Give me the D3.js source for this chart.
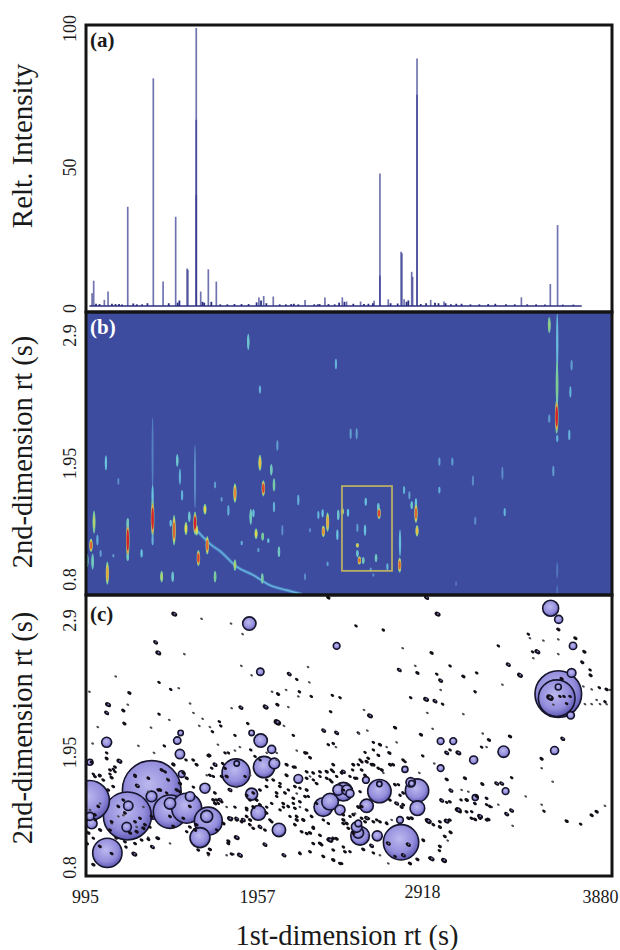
<!DOCTYPE html>
<html><head><meta charset="utf-8">
<script src="https://cdn.jsdelivr.net/npm/d3@7"></script>
<style>html,body{margin:0;padding:0;background:#fff}svg{display:block}
text{font-family:"Liberation Serif","Times New Roman",serif;fill:#1a1a1a}</style></head>
<body><div id="chart"></div>
<script>
// ---------- shared axis data ----------
const xTickValues = [995, 1957, 2918, 3880];
const xTickLift = [0, 0, 5, 0];
const intensityTicks = [100, 50, 0];
const secondDimTicks = [2.9, 1.95, 0.8];
const secondDimTickFormat = ["0.8", "1.95", "2.9"];
const panelTags = ["(a)", "(b)", "(c)"];

// ---------- panel (a): [1st-dim rt, relative intensity] ----------
const mainPeaks = [[1018,4.6],[1027,9.1],[1087,2.2],[1108,5.2],[1219,35.7],[1363,81.9],[1418,8.8],[1489,32.1],[1553,13.5],[1558,13],[1605,100],[1605,67],[1605,40],[1630,5.2],[1673,13.2],[1718,8.8],[1958,3.1],[1985,3.6],[2039,3.4],[2218,2.2],[2330,3.1],[2428,3.1],[2452,1.6],[2531,1.6],[2607,1.9],[2640,47.7],[2640,11],[2687,2.4],[2759,19.5],[2764,19],[2776,2.4],[2819,12.3],[2824,10.5],[2849,89],[2849,76],[2926,2.2],[3001,1.6],[3437,3.1],[3600,7.9],[3641,29.1]];
const lowPeaks = [[1040,.8],[1060,.7],[1130,.8],[1150,.7],[1170,.7],[1187,.5],[1250,.9],[1270,.6],[1300,.6],[1330,1],[1450,1],[1500,1.2],[1510,2],[1640,1.5],[1650,1.2],[1690,1.5],[1740,.6],[1780,.6],[1820,.7],[1860,.7],[1900,.7],[1945,1.3],[1970,2],[2000,1],[2075,.6],[2110,.6],[2140,.7],[2155,.8],[2180,.6],[2270,.6],[2290,.6],[2300,.7],[2350,.7],[2385,.6],[2410,1.2],[2440,1.5],[2490,.8],[2550,.7],[2575,.8],[2600,1],[2700,1],[2740,.9],[2790,1.5],[2800,2],[2870,.7],[2900,1],[2950,1.2],[2970,1],[3010,1],[3040,.6],[3070,.8],[3100,.8],[3150,.6],[3200,.6],[3250,.7],[3290,.8],[3350,.6],[3400,.6],[3470,.6],[3520,.6],[3570,.5],[3670,.5],[3730,.5]];
const baselineRange = [1003, 3777];

// ---------- panel (b): [rt, 2nd-dim rt, span, level] ----------
const spots = [[1898,2.84,.14,.35],[2392,2.65,.09,.25],[1964,2.43,.07,.25],[2062,1.95,.09,.2],[1096,1.8,.13,.3],[1359,1.88,.63,.12],[1359,1.51,.2,.3],[1359,1.32,.32,1],[1359,1.135,.09,.25],[1498,1.82,.11,.35],[1513,1.68,.14,.25],[1525,1.52,.09,.25],[1598,1.68,.55,.15],[1598,1.28,.2,1],[1607,1.22,.09,.7],[1823,1.54,.17,.85],[1964,1.8,.14,.75],[1983,1.58,.14,.95],[2028,1.74,.1,.4],[2043,1.61,.115,.45],[2043,1.42,.09,.25],[2180,1.48,.09,.25],[1786,1.39,.09,.25],[1711,1.61,.06,.2],[1748,1.485,.04,.2],[1654,1.4,.09,.7],[1029,1.29,.2,.6],[1012,1.09,.115,.9],[1021,.95,.14,.4],[991,.96,.115,.35],[1048,1.135,.09,.25],[1066,1.02,.06,.2],[1219,1.135,.32,1],[1219,1.28,.09,.4],[1219,.99,.07,.4],[1297,1.02,.07,.3],[1138,1,.03,.2],[1166,1.64,.06,.15],[1104,.85,.2,.8],[1410,.82,.1,.6],[1472,.82,.09,.35],[1711,.82,.1,.5],[1480,1.22,.26,.9],[1461,1.28,.06,.3],[1547,1.235,.115,.7],[1566,1.335,.09,.35],[1617,.98,.14,.95],[1667,1.09,.16,.9],[1823,.92,.1,.6],[1977,.805,.09,.45],[1912,1.335,.14,.4],[1927,1.365,.07,.3],[1942,1.19,.09,.7],[1979,1.165,.07,.5],[2011,1.13,.04,.3],[1861,1.11,.04,.25],[2071,1.035,.09,.4],[2090,1.22,.09,.15],[2218,.82,.06,.15],[1955,1.05,.04,.2],[2246,1.22,.04,.15],[2293,1.35,.07,.25],[2321,1.21,.1,.85],[2345,1.29,.17,.8],[2317,1.365,.07,.3],[2405,1.35,.09,.35],[2400,1.18,.09,.3],[2428,1.38,.06,.7],[2345,.93,.04,.2],[2475,2.05,.09,.2],[2509,2.05,.1,.2],[3594,2.985,.14,.55],[3639,2.83,.52,.28],[3638,2.47,.42,.5],[3636,2.2,.3,1],[3639,2.01,.06,.25],[3720,2.64,.09,.2],[3713,2.41,.1,.25],[3594,2.18,.07,.2],[3707,2.04,.09,.25],[3617,1.73,.09,.2],[3330,1.71,.115,.15],[3164,1.645,.09,.15],[2975,1.81,.07,.2],[3048,1.81,.07,.2],[2975,1.565,.06,.25],[2776,1.565,.07,.25],[2806,1.52,.07,.2],[2819,1.435,.07,.35],[2843,1.45,.09,.3],[2843,1.365,.17,.9],[2849,1.215,.1,.75],[3343,1.375,.07,.25],[3177,1.3,.07,.15],[2560,1.465,.07,.3],[2631,1.42,.07,.35],[2635,1.365,.1,.95],[2460,1.37,.07,.3],[2513,1.24,.07,.2],[2556,1.22,.1,.3],[2513,1.09,.04,.75],[2513,1.02,.06,.35],[2524,.96,.07,.9],[2546,.96,.06,.4],[2618,.98,.07,.4],[2682,.905,.06,.25],[2588,.88,.04,.2],[2753,1.11,.23,.28],[2751,.92,.13,.9],[2603,.835,.03,.15],[3639,.875,.14,.1],[3639,.7,.09,.08],[3069,.76,.04,.1]];
const streakRt = [1607,1692,1739,1833,1927,2020,2114,2199];
const streakY = [1.22,1.09,1.04,.905,.833,.747,.704,.67];
const boxRt = [2426, 2708];
const boxY = [1.6, 0.87];

// ---------- panel (c): bubbles [rt, 2nd-dim rt, size] ----------
const bubbles = [[1003,1.365,60],[1217,1.234,72],[1354,1.455,88],[1457,1.27,50],[1551,1.3,45],[1673,1.19,42],[1626,1.05,30],[1104,.92,44],[1829,1.6,42],[1987,1.65,32],[2045,1.68,16],[1904,2.87,20],[1966,2.46,11],[2396,2.68,10],[1100,1.86,15],[1513,1.76,14],[1498,1.875,11],[1968,1.875,20],[2030,1.8,12],[1654,1.47,15],[1353,1.4,16],[1222,1.32,14],[1457,1.34,17],[1570,1.4,14],[1213,1.14,14],[1664,1.23,18],[2071,1.115,20],[1917,1.42,18],[1955,1.26,22],[2180,1.55,13],[2321,1.31,28],[2405,1.455,16],[2359,1.355,25],[2471,1.425,12],[2518,1.09,16],[1006,1.23,12],[1016,1.17,16],[1523,1.59,10],[1006,1.69,9],[1833,1.68,8],[1917,1.94,8],[1517,1.94,8],[3602,3,24],[3647,2.905,12],[3645,2.27,70],[3636,2.235,55],[3720,2.45,13],[3728,2.68,11],[3715,2.09,11],[3624,1.79,12],[3337,1.78,17],[3168,1.71,12],[2982,1.64,10],[2637,1.445,35],[2849,1.45,35],[2851,1.3,22],[2565,1.32,20],[2759,1.01,53],[2528,1.065,28],[2509,1.14,16],[2625,1.065,15],[2813,1.52,14],[2561,1.54,10],[2781,1.63,9],[2434,1.44,28],[2453,1.455,15],[2982,1.87,10],[3053,1.87,10],[3348,1.445,10],[3177,1.39,9],[2753,1.2,10],[2415,1.285,15],[3645,2.33,9],[2637,1.505,8],[2819,1.51,9],[2518,1.17,10]];

// small peaks in panel (c): [rt, 2nd-dim rt, size]
const dots = [[1481,2.95,7],[1635,2.91,3],[1801,2.87,3],[1866,2.78,3],[1376,2.71,6],[1391,2.62,7],[1538,2.61,3],[1151,2.42,3],[1395,2.37,4],[1461,2.31,4],[1506,2.32,3],[1003,2.29,3],[1228,2.28,5],[1108,2.18,7],[1194,2.13,5],[1219,2.18,3],[1100,2.11,6],[1395,2.1,4],[1453,2.05,3],[1570,2.19,3],[1589,2.11,3],[1641,2.06,3],[1804,2.15,3],[1857,2.155,6],[1996,2.16,7],[2062,2.18,5],[2124,2.16,3],[2062,2.03,9],[2099,2,3],[1895,2.02,4],[1050,1.99,3],[1200,2.02,5],[1350,1.985,3],[1622,2,3],[1682,1.99,3],[1735,2.035,4],[1743,2,4],[1696,1.95,4],[1859,2.51,3],[1917,2.43,3],[2129,2.44,6],[2171,2.395,4],[2235,2.5,3],[2242,2.37,3],[2032,2.29,3],[2066,2.27,5],[2186,2.29,4],[2253,2.25,4],[2111,2.305,3],[2180,2.25,3],[2372,2.26,4],[2415,2.24,4],[2505,2.85,4],[2362,2.12,4],[2323,1.96,6],[2396,1.94,6],[2518,1.94,4],[1823,1.92,4],[2152,1.92,4],[1021,1.85,3],[1279,1.83,3],[1425,1.83,4],[1367,1.77,3],[1727,1.84,3],[1679,1.75,5],[1767,1.77,4],[1786,1.77,4],[1851,1.82,3],[1823,1.79,3],[1912,1.795,4],[2171,1.79,3],[2227,1.77,4],[2246,1.725,3],[2349,1.84,4],[2377,1.85,4],[2392,1.82,3],[1100,1.77,4],[1100,1.72,4],[1172,1.7,7],[1025,1.59,4],[1059,1.575,4],[1138,1.63,4],[1147,1.61,4],[1119,1.59,4],[1128,1.56,5],[1260,1.57,4],[1410,1.625,5],[1476,1.67,5],[1547,1.71,4],[1607,1.67,4],[1711,1.67,6],[1692,1.64,4],[1754,1.68,4],[1664,1.58,3],[1701,1.57,4],[1273,1.49,6],[1335,1.56,3],[1442,1.55,3],[1401,1.455,5],[1194,1.24,3],[1166,1.23,3],[1128,1.17,3],[1269,1.14,3],[1307,1.31,3],[1335,1.44,3],[1438,1.43,4],[1495,1.455,5],[1513,1.51,5],[1551,1.555,5],[1589,1.48,4],[1776,1.57,5],[1795,1.455,6],[1833,1.48,3],[1880,1.57,4],[1908,1.58,3],[1739,1.37,6],[1711,1.34,5],[1776,1.31,3],[1823,1.31,4],[1795,1.21,7],[1833,1.21,6],[1870,1.2,6],[1908,1.2,5],[1964,1.14,6],[2020,1.2,4],[2002,1.31,4],[2058,1.4,4],[2096,1.31,4],[2133,1.23,4],[2171,1.2,5],[2124,1.455,4],[2152,1.34,4],[2189,1.31,3],[2227,1.455,4],[2265,1.54,4],[2302,1.57,4],[2340,1.61,5],[2377,1.61,4],[2434,1.61,6],[2471,1.57,4],[2518,1.67,4],[2509,1.555,4],[2208,1.2,5],[2246,1.09,5],[2265,1.14,4],[2302,1,5],[2359,1.03,8],[2396,1.04,5],[2452,1.17,5],[2490,1.09,5],[2434,.97,4],[2377,.86,5],[2424,.83,4],[2321,.89,3],[2189,.925,3],[2099,.9,6],[1992,.99,6],[1833,1.05,7],[1851,.9,7],[1814,.91,3],[1776,.9,3],[1786,1.02,5],[1682,.95,5],[1673,.9,3],[1457,1,3],[1386,1.045,5],[1335,1.05,3],[1358,.97,6],[1256,.91,7],[1209,.97,4],[1153,1.045,4],[1025,.82,5],[1063,1.115,5],[1025,1.045,4],[988,1,5],[997,1.09,5],[1035,1.2,4],[1063,1.34,3],[1006,1.285,3],[1232,1.09,5],[1269,1.1,5],[1307,1.13,5],[1344,1.14,4],[1758,1.17,5],[1720,1.115,4],[1598,1.115,5],[1551,1.1,4],[1701,1.37,5],[1729,1.34,4],[2236,1.4,4],[2171,1.425,3],[2077,1.51,4],[2114,1.58,5],[2002,1.54,4],[1964,1.455,3],[1945,1.37,4],[2030,1.34,4],[2077,1.285,4],[1927,1.31,5],[1889,1.285,4],[2283,1.34,4],[2321,1.2,4],[2349,1.17,4],[2434,1.2,5],[2471,1.23,4],[2518,1.31,5],[2434,1.455,4],[2359,1.54,4],[2396,1.57,4],[2246,1.57,3],[2189,1.47,4],[2152,1.65,4],[2114,1.67,5],[1936,1.74,4],[2002,1.77,3],[2058,1.77,3],[2058,1.71,3],[1964,1.71,4],[2659,2.815,4],[2965,2.95,7],[2903,3.09,6],[2349,3.09,5],[2768,2.66,3],[2931,2.62,5],[2749,2.475,6],[2851,2.45,5],[3035,2.51,4],[2839,2.51,3],[2960,2.44,4],[2982,2.385,6],[2982,2.305,3],[3110,2.42,5],[3185,2.45,4],[3176,2.29,4],[2900,2.225,7],[2950,2.21,6],[2993,2.185,4],[2813,2.24,4],[2907,2.11,3],[3110,2.1,3],[2584,2.085,7],[2550,2.135,3],[2725,1.985,5],[2937,1.975,3],[2871,1.925,5],[2522,1.935,3],[2569,1.96,3],[3219,1.935,3],[3254,1.88,5],[3373,1.91,5],[3213,1.82,4],[3241,1.82,3],[3016,1.77,6],[3035,1.795,4],[3082,1.77,7],[2881,1.745,4],[2603,1.86,4],[2640,1.84,5],[2678,1.82,3],[2734,1.86,3],[2556,1.775,4],[2603,1.795,4],[2631,1.75,3],[2693,1.77,5],[2528,1.71,4],[2565,1.695,5],[2603,1.67,5],[2650,1.625,5],[2490,1.67,4],[2486,1.625,4],[2697,1.67,5],[2781,1.695,4],[2862,1.6,3],[2946,1.68,3],[3016,1.545,5],[3119,1.555,5],[3217,1.505,5],[3298,1.51,6],[3326,1.51,6],[3382,1.56,4],[3040,1.45,6],[3100,1.455,3],[3138,1.44,3],[2988,1.365,6],[3016,1.35,4],[3097,1.37,4],[3129,1.37,5],[3082,1.285,8],[3157,1.27,4],[3204,1.23,7],[3176,1.205,5],[3251,1.205,5],[3241,1.33,4],[3270,1.31,3],[3307,1.33,3],[3354,1.25,6],[3382,1.28,6],[3388,1.15,3],[3016,1.19,7],[2978,1.14,5],[3038,1.095,5],[3022,1.025,3],[2975,.94,4],[2931,.87,7],[3001,.855,7],[2851,.865,5],[2913,1.19,8],[2885,1.025,4],[2734,1.34,6],[2762,1.31,5],[2753,1.41,4],[2744,1.5,4],[2659,1.6,3],[2528,1.44,4],[2500,1.255,3],[2565,1.215,6],[2622,1.2,4],[2678,1.18,3],[2706,1.2,3],[2800,1.215,5],[2819,1.215,5],[2471,.93,4],[2546,.95,5],[2603,.92,4],[2640,.9,3],[2687,.83,3],[2809,.83,5],[2593,.98,6],[2725,.89,4],[3307,2.68,4],[3363,2.52,6],[3429,2.43,7],[3330,2.35,3],[3476,2.78,4],[3485,2.745,3],[3561,2.725,3],[3500,2.63,4],[3527,2.63,7],[3504,2.575,3],[3645,2.735,3],[3645,2.61,3],[3741,2.745,5],[3792,2.63,5],[3780,2.54,5],[3824,2.475,4],[3827,2.43,5],[3786,2.335,3],[3833,2.31,3],[3876,2.325,4],[3917,2.31,5],[3936,2.305,3],[3795,2.185,3],[3833,2.185,3],[3861,2.22,3],[3880,2.185,3],[3908,2.205,4],[3917,2.185,3],[3670,1.89,6],[3551,1.72,5],[3551,1.64,3],[3613,1.525,3],[3461,1.4,3],[3551,1.33,3],[3564,1.275,4],[3692,1.19,5],[3771,1.165,4],[3833,1.24,5],[3861,1.27,5],[3908,1.32,3],[3664,2.4,5],[3598,2.24,9],[3617,2.18,3],[3692,2.19,4],[3654,2.25,4],[3677,2.25,4],[3711,2.25,4],[2687,1,6],[2800,.99,6],[2772,.9,6],[3645,2.82,5]];
// further small peaks of the crowded region: [rt, 2nd-dim rt]
const crowdedDots = [[1260,1.58],[1335,1.555],[1391,1.455],[1429,1.61],[1476,1.675],[1447,1.54],[1194,1.37],[1166,1.315],[1203,1.26],[1288,1.215],[1316,1.16],[1260,1.185],[1128,1.185],[1119,1.115],[1353,1.23],[1062,.975],[1128,.915],[1109,1.455],[1053,1.315],[1034,1.245],[1532,1.6],[1588,1.71],[1607,1.67],[1682,1.58],[1710,1.67],[1673,1.745],[1767,1.64],[1748,1.57],[1015,1.69],[1100,1.725],[1147,1.65],[1119,1.625],[1175,1.695],[1062,1.58],[1034,1.57],[1081,1.54],[1137,1.485],[1513,1.44],[1569,1.315],[1457,1.23],[1532,1.215],[1476,1.145],[1569,1.14],[1607,1.16],[1720,1.37],[1748,1.355],[1710,1.43],[1804,1.215],[1832,1.2],[1860,1.185],[1889,1.23],[1907,1.16],[1964,1.145],[1926,1.13],[1992,1.115],[2030,1.185],[1889,1.41],[1926,1.43],[1907,1.37],[1945,1.37],[1964,1.455],[2001,1.485],[2058,1.43],[2095,1.34],[2123,1.315],[2076,1.485],[2039,1.54],[2105,1.43],[1964,1.33],[2001,1.26],[1889,1.3],[1785,1],[1391,1.045],[1335,1.035],[1297,1.03],[1260,1],[1203,1.015],[1616,.945],[1673,.915],[1804,.91],[2218,1.77],[2246,1.73],[2161,1.65],[2227,1.61],[2264,1.6],[2302,1.61],[2368,1.625],[2424,1.6],[2377,1.67],[2490,1.67],[2537,1.695],[2574,1.725],[2631,1.75],[2593,1.67],[2631,1.64],[2715,1.67],[2771,1.71],[2537,1.625],[2499,1.555],[2556,1.58],[2227,1.555],[2283,1.51],[2340,1.555],[2368,1.525],[2161,1.485],[2227,1.455],[2152,1.385],[2161,1.3],[2189,1.355],[2218,1.4],[2227,1.285],[2255,1.23],[2171,1.23],[2208,1.2],[2264,1.13],[2199,1.1],[2227,1.085],[2161,1.16],[2302,1.07],[2349,1.03],[2377,1.045],[2311,.99],[2264,1],[2377,.945],[2443,.93],[2321,.89],[2377,.86],[2415,.83],[2189,.915],[2246,.93],[2433,1.245],[2490,1.245],[2537,1.215],[2556,1.185],[2603,1.185],[2433,1.17],[2462,1.13],[2537,1.315],[2574,1.215],[2640,1.185],[2678,1.17],[2903,1.2],[2941,1.16],[2978,1.185],[3034,1.2],[3006,1.06],[2884,1.03],[2978,.975],[2922,.875],[3006,.86],[2987,1.37],[3034,1.355],[3072,1.285],[3091,1.27],[3128,1.27],[3156,1.215],[3203,1.215],[3128,1.37],[3185,1.4],[3241,1.385],[3260,1.315],[3241,1.2],[3175,1.34],[2725,1.5],[2771,1.43],[2696,1.37],[2771,1.33]];
const crowdedDotSize = 4.5;

// ---------- layout ----------
const W = 620, H = 950;
const frame = {left: 86, right: 612, top: 25, ab: 312, bc: 595, bottom: 876};
const svg = d3.select("#chart").append("svg").attr("width", W).attr("height", H);
svg.append("rect").attr("width", W).attr("height", H).attr("fill", "#fff");
const defs = svg.append("defs");

const x = d3.scaleLinear().domain([995, 3880]).range([88, 600]);
const xLabels = d3.scaleLinear().domain(xTickValues).range([85, 257, 422, 600]);
const yA = d3.scaleLinear().domain([0, 100]).range([306, 28]);
const yB = d3.scaleLinear().domain([0.8, 2.9]).range([579, 335]);
const yC = d3.scaleLinear().domain([0.8, 2.9]).range([867, 620]);
const yLabelsA = d3.scaleLinear().domain([0, 50, 100]).range([308, 167, 28]);
const yLabelsB = d3.scaleLinear().domain([0.8, 1.95, 2.9]).range([579, 463, 335]);
const yLabelsC = d3.scaleLinear().domain([0.8, 1.95, 2.9]).range([867, 752, 620]);
const size = d3.scaleLinear().domain([0, 90]).range([0, 30]);
const jet = d3.scaleLinear().domain([0, .15, .3, .5, .7, .85, 1])
  .range(["#3d4c9f", "#5d8ccb", "#68c3de", "#7fcb8f", "#e6d84a", "#e58a35", "#d2222d"]);

function clip(id, y0, y1) {
  defs.append("clipPath").attr("id", id).append("rect")
    .attr("x", frame.left).attr("y", y0).attr("width", frame.right - frame.left).attr("height", y1 - y0);
}
clip("ca", frame.top, frame.ab); clip("cb", frame.ab, frame.bc); clip("cc", frame.bc, frame.bottom);
defs.append("filter").attr("id", "soft").attr("x", "-5%").attr("y", "-5%").attr("width", "110%").attr("height", "110%")
  .append("feGaussianBlur").attr("stdDeviation", 0.45);
defs.append("filter").attr("id", "softer").attr("x", "-5%").attr("y", "-5%").attr("width", "110%").attr("height", "110%")
  .append("feGaussianBlur").attr("stdDeviation", 0.55);
const grad = defs.append("radialGradient").attr("id", "ball").attr("cx", "45%").attr("cy", "40%").attr("r", "62%");
grad.append("stop").attr("offset", "0%").attr("stop-color", "#bcb8ee");
grad.append("stop").attr("offset", "65%").attr("stop-color", "#938ddc");
grad.append("stop").attr("offset", "100%").attr("stop-color", "#5a54b0");

// ---------- panel (a) ----------
const pa = svg.append("g").attr("clip-path", "url(#ca)").append("g").attr("filter", "url(#soft)");
pa.selectAll("line.main").data(mainPeaks).join("line").attr("class", "main")
  .attr("x1", d => x(d[0])).attr("x2", d => x(d[0]))
  .attr("y1", yA(0)).attr("y2", d => yA(d[1]))
  .attr("stroke", "#35398f").attr("stroke-width", 1.7).attr("stroke-opacity", 0.7);
pa.selectAll("line.low").data(lowPeaks).join("line").attr("class", "low")
  .attr("x1", d => x(d[0])).attr("x2", d => x(d[0]))
  .attr("y1", yA(0)).attr("y2", d => yA(d[1]))
  .attr("stroke", "#2b2f80").attr("stroke-width", 1.8);
pa.append("line").attr("x1", x(baselineRange[0])).attr("x2", x(baselineRange[1]))
  .attr("y1", yA(0)).attr("y2", yA(0)).attr("stroke", "#2b2f80").attr("stroke-width", 1.6);

// ---------- panel (b) ----------
svg.append("rect").attr("x", frame.left).attr("y", frame.ab).attr("width", frame.right - frame.left)
  .attr("height", frame.bc - frame.ab).attr("fill", "#3d4c9f");
const pb = svg.append("g").attr("clip-path", "url(#cb)").append("g").attr("filter", "url(#softer)");
const streak = d3.line().x((d, i) => x(streakRt[i])).y((d, i) => yB(streakY[i])).curve(d3.curveMonotoneX);
pb.append("path").attr("d", streak(streakRt)).attr("fill", "none").attr("stroke", "#4f86c8").attr("stroke-width", 3.2).attr("stroke-opacity", 0.85);
pb.append("path").attr("d", streak(streakRt)).attr("fill", "none").attr("stroke", "#6fc8e6").attr("stroke-width", 1.1).attr("stroke-opacity", 0.85);
[[1, 1], [0.65, 0.8], [0.32, 0.58]].forEach(([k, f], idx) => {
  pb.selectAll("ellipse.s" + idx).data(spots.filter(d => idx === 0 || d[3] >= 0.35)).join("ellipse")
    .attr("class", "s" + idx)
    .attr("cx", d => x(d[0]))
    .attr("cy", d => yB(d[1]))
    .attr("rx", d => (0.9 + d[3] * 0.9) * (idx === 0 ? 1 : 0.9 - idx * 0.1))
    .attr("ry", d => Math.abs(yB(d[1] + d[2] / 2) - yB(d[1] - d[2] / 2)) / 2 * f)
    .attr("fill", d => jet(idx === 0 ? Math.min(d[3], 0.45) : idx === 1 ? d[3] * 0.8 : d[3]));
});
svg.append("rect").attr("x", x(boxRt[0])).attr("y", yB(boxY[0]))
  .attr("width", x(boxRt[1]) - x(boxRt[0])).attr("height", yB(boxY[1]) - yB(boxY[0]))
  .attr("fill", "none").attr("stroke", "#b7ae68").attr("stroke-width", 1.8);

// ---------- panel (c) ----------
const pc = svg.append("g").attr("clip-path", "url(#cc)").append("g").attr("filter", "url(#soft)");
pc.selectAll("circle").data(bubbles.slice().sort((a, b) => b[2] - a[2])).join("circle")
  .attr("cx", d => x(d[0])).attr("cy", d => yC(d[1])).attr("r", d => size(d[2]))
  .attr("fill", "url(#ball)").attr("stroke", "#15132c").attr("stroke-width", 1.6);
const allDots = dots.concat(crowdedDots.map(d => [d[0], d[1], crowdedDotSize]));
pc.selectAll("ellipse.dot").data(allDots).join("ellipse").attr("class", "dot")
  .attr("cx", 0).attr("cy", 0)
  .attr("rx", d => size(d[2]) * 1.25 + 0.3).attr("ry", d => size(d[2]) * 0.85 + 0.2)
  .attr("transform", d => `translate(${x(d[0])},${yC(d[1])}) rotate(32)`)
  .attr("fill", d => d[2] <= 3 ? "#4a4852" : "#121018");
pc.selectAll("circle.hi").data(allDots.filter(d => d[2] >= 6)).join("circle").attr("class", "hi")
  .attr("cx", d => x(d[0]) + 0.3).attr("cy", d => yC(d[1]) - 0.3).attr("r", d => size(d[2]) * 0.38)
  .attr("fill", "#7f7ac6");

// ---------- frame ----------
[[frame.top, frame.ab], [frame.ab, frame.bc], [frame.bc, frame.bottom]].forEach(([a, b]) => {
  svg.append("rect").attr("x", frame.left).attr("y", a).attr("width", frame.right - frame.left)
    .attr("height", b - a).attr("fill", "none").attr("stroke", "#141414").attr("stroke-width", 3);
});

// ---------- axes ----------
const xAxis = svg.append("g").attr("transform", "translate(0,903)")
  .call(d3.axisBottom(xLabels).tickValues(xTickValues).tickSize(0).tickFormat(d3.format("d")));
xAxis.select(".domain").remove();
xAxis.selectAll("text").attr("y", 0).attr("dy", (d, i) => -xTickLift[i]).attr("font-size", 18)
  .style("font-family", '"Liberation Serif",serif').attr("fill", "#1a1a1a");

function yAxis(scale, ticks, fmt) {
  const g = svg.append("g").attr("transform", "translate(70,0)")
    .call(d3.axisLeft(scale).tickValues(ticks).tickSize(0).tickFormat(fmt));
  g.select(".domain").remove();
  g.selectAll("text").attr("x", 0).attr("y", 0).attr("dy", "0.33em").attr("text-anchor", "middle")
    .attr("transform", "rotate(-90)").attr("font-size", 18)
    .style("font-family", '"Liberation Serif",serif').attr("fill", "#1a1a1a");
}
yAxis(yLabelsA, intensityTicks, d3.format("d"));
const secFmt = d => secondDimTickFormat[[0.8, 1.95, 2.9].indexOf(d)];
yAxis(yLabelsB, secondDimTicks, secFmt);
yAxis(yLabelsC, secondDimTicks, secFmt);

function yTitle(t, cy, fs) {
  svg.append("text").attr("transform", `translate(32,${cy}) rotate(-90)`).attr("text-anchor", "middle")
    .attr("font-size", fs).text(t);
}
yTitle("Relt. Intensity", 146, 29);
yTitle("2nd-dimension rt (s)", 452, 28.5);
yTitle("2nd-dimension rt (s)", 728, 28.5);
svg.append("text").attr("x", 347).attr("y", 945).attr("text-anchor", "middle").attr("font-size", 28.5).text("1st-dimension rt (s)");

// ---------- panel tags ----------
[[90, 47, "#1a1a1a"], [90, 334, "#ffffff"], [90, 621, "#1a1a1a"]].forEach((p, i) => {
  svg.append("text").attr("x", p[0]).attr("y", p[1]).attr("font-size", 21).attr("font-weight", "bold")
    .style("fill", p[2]).text(panelTags[i]);
});
</script></body></html>
